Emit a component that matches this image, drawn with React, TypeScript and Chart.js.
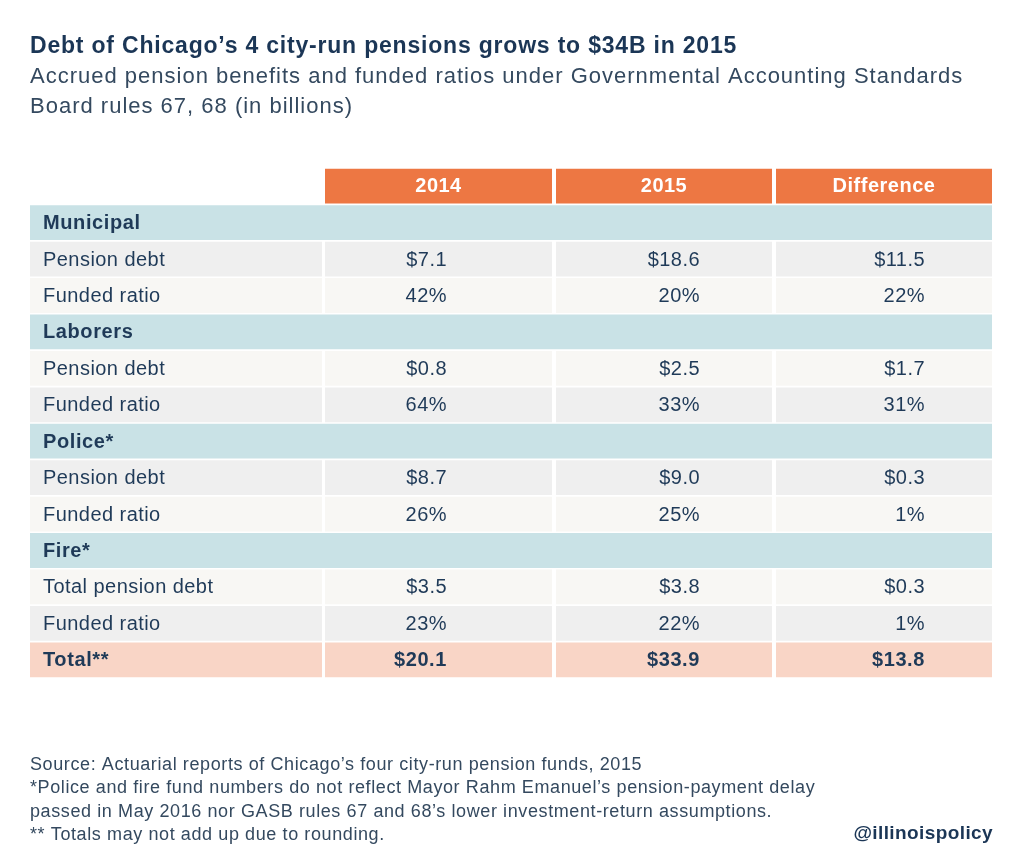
import React, { useEffect, useRef } from "react";
import { Chart, registerables } from "chart.js";

Chart.register(...registerables);

// ---------- content ----------
const titleText = "Debt of Chicago’s 4 city-run pensions grows to $34B in 2015";
const subtitleLines = [
  "Accrued pension benefits and funded ratios under Governmental Accounting Standards",
  "Board rules 67, 68 (in billions)",
];
const noteLines = [
  "Source: Actuarial reports of Chicago’s four city-run pension funds, 2015",
  "*Police and fire fund numbers do not reflect Mayor Rahm Emanuel’s pension-payment delay",
  "passed in May 2016 nor GASB rules 67 and 68’s lower investment-return assumptions.",
  "** Totals may not add up due to rounding.",
];
const creditText = "@illinoispolicy";

// ---------- data ----------
const columnHeaders = ["", "2014", "2015", "Difference"];
const rowLabels = [
  "",
  "Municipal",
  "Pension debt",
  "Funded ratio",
  "Laborers",
  "Pension debt",
  "Funded ratio",
  "Police*",
  "Pension debt",
  "Funded ratio",
  "Fire*",
  "Total pension debt",
  "Funded ratio",
  "Total**",
];
const rowKinds = [
  "header",
  "group",
  "debt",
  "ratio",
  "group",
  "debt",
  "ratio",
  "group",
  "debt",
  "ratio",
  "group",
  "debt",
  "ratio",
  "total",
];
const values2014 = [null, null, 7.1, 42, null, 0.8, 64, null, 8.7, 26, null, 3.5, 23, 20.1];
const values2015 = [null, null, 18.6, 20, null, 2.5, 33, null, 9.0, 25, null, 3.8, 22, 33.9];
const valuesDiff = [null, null, 11.5, 22, null, 1.7, 31, null, 0.3, 1, null, 0.3, 1, 13.8];
const columnValues = [null, values2014, values2015, valuesDiff];

// ---------- layout / style ----------
const TABLE_WIDTH = 962;
const COL_EDGES: [number, number][] = [
  [0, 292],
  [295, 522],
  [526, 742],
  [746, 962],
];
const VALUE_RIGHT = [0, 417, 670, 895];
const LABEL_X = 13;

const C_HEADER = "#ED7743";
const C_GROUP = "#C9E2E6";
const C_GRAY = "#EFEFEF";
const C_LIGHT = "#F8F7F4";
const C_TOTAL = "#F9D5C6";
const C_TEXT = "#1F3A58";
const C_TITLE = "#1B3656";
const C_SUB = "#34495F";
const FONT = "'Liberation Sans', Arial, sans-serif";

function rowColor(i: number): string {
  const k = rowKinds[i];
  if (k === "header") return C_HEADER;
  if (k === "group") return C_GROUP;
  if (k === "total") return C_TOTAL;
  return i % 2 === 0 ? C_GRAY : C_LIGHT;
}

function formatValue(v: number | null, kind: string): string {
  if (v === null || v === undefined) return "";
  if (kind === "ratio") return `${v}%`;
  return `$${v.toFixed(1)}`;
}

function setSpacing(ctx: any, px: number) {
  if ("letterSpacing" in ctx) ctx.letterSpacing = `${px}px`;
}

const textPlugin = {
  id: "tableText",
  afterDatasetsDraw(chart: any) {
    const { ctx, scales } = chart;
    const xs = scales.x;
    const ys = scales.y;
    ctx.save();
    ctx.textBaseline = "middle";
    rowLabels.forEach((label, i) => {
      const y = ys.getPixelForValue(i);
      const kind = rowKinds[i];
      if (kind === "header") {
        ctx.fillStyle = "#FFFFFF";
        ctx.font = `bold 20px ${FONT}`;
        setSpacing(ctx, 0.5);
        ctx.textAlign = "center";
        for (let c = 1; c < columnHeaders.length; c++) {
          const [a, b] = COL_EDGES[c];
          const x = (xs.getPixelForValue(a) + xs.getPixelForValue(b)) / 2;
          ctx.fillText(columnHeaders[c], x, y);
        }
        return;
      }
      const bold = kind === "group" || kind === "total";
      ctx.fillStyle = C_TEXT;
      ctx.font = `${bold ? "bold " : ""}20px ${FONT}`;
      setSpacing(ctx, bold ? 0.6 : 0.45);
      ctx.textAlign = "left";
      ctx.fillText(label, xs.getPixelForValue(LABEL_X), y + 1);
      for (let c = 1; c < columnValues.length; c++) {
        const arr = columnValues[c] as (number | null)[];
        const txt = formatValue(arr[i], kind);
        if (!txt) continue;
        ctx.textAlign = "right";
        ctx.fillText(txt, xs.getPixelForValue(VALUE_RIGHT[c]), y + 1);
      }
    });
    ctx.restore();
  },
  afterDraw(chart: any) {
    const { ctx } = chart;
    ctx.save();
    ctx.textAlign = "left";
    ctx.textBaseline = "alphabetic";
    ctx.fillStyle = C_TITLE;
    ctx.font = `bold 23px ${FONT}`;
    setSpacing(ctx, 0.8);
    ctx.fillText(titleText, 30, 53);
    ctx.fillStyle = C_SUB;
    ctx.font = `22px ${FONT}`;
    setSpacing(ctx, 1);
    subtitleLines.forEach((l, i) => ctx.fillText(l, 30, 83 + i * 30));
    ctx.font = `18px ${FONT}`;
    setSpacing(ctx, 0.6);
    ctx.textBaseline = "middle";
    noteLines.forEach((l, i) => ctx.fillText(l, 30, 765 + i * 23.3));
    ctx.fillStyle = C_TITLE;
    ctx.font = `bold 19px ${FONT}`;
    setSpacing(ctx, 0.4);
    ctx.textAlign = "right";
    ctx.fillText(creditText, 993, 834);
    ctx.restore();
  },
};

export default function App() {
  const ref = useRef<HTMLCanvasElement | null>(null);
  useEffect(() => {
    if (!ref.current) return;
    const datasets = COL_EDGES.map((edge, c) => ({
      label: columnHeaders[c] || "Row",
      data: rowKinds.map((k) => {
        if (k === "group") return c === 0 ? [0, TABLE_WIDTH] : null;
        if (k === "header" && c === 0) return null;
        return [edge[0], edge[1]];
      }),
      backgroundColor: rowKinds.map((_, i) => rowColor(i)),
      borderWidth: 0,
      borderSkipped: false,
      barPercentage: 0.955,
      categoryPercentage: 1,
      grouped: false,
    }));
    const chart = new Chart(ref.current, {
      type: "bar",
      data: { labels: rowLabels, datasets: datasets as any },
      options: {
        indexAxis: "y",
        animation: false,
        responsive: false,
        maintainAspectRatio: false,
        layout: { padding: { left: 30, right: 32, top: 168, bottom: 169 } },
        plugins: {
          legend: { display: false },
          tooltip: { enabled: false },
          title: { display: false },
        },
        scales: {
          x: { type: "linear", min: 0, max: TABLE_WIDTH, display: false },
          y: { type: "category", display: false, offset: true, grid: { display: false } },
        },
      },
      plugins: [textPlugin],
    });
    return () => chart.destroy();
  }, []);
  return (
    <div style={{ position: "absolute", left: 0, top: 0, width: 1024, height: 847, background: "#fff" }}>
      <canvas ref={ref} width={1024} height={847} style={{ display: "block" }} />
    </div>
  );
}
